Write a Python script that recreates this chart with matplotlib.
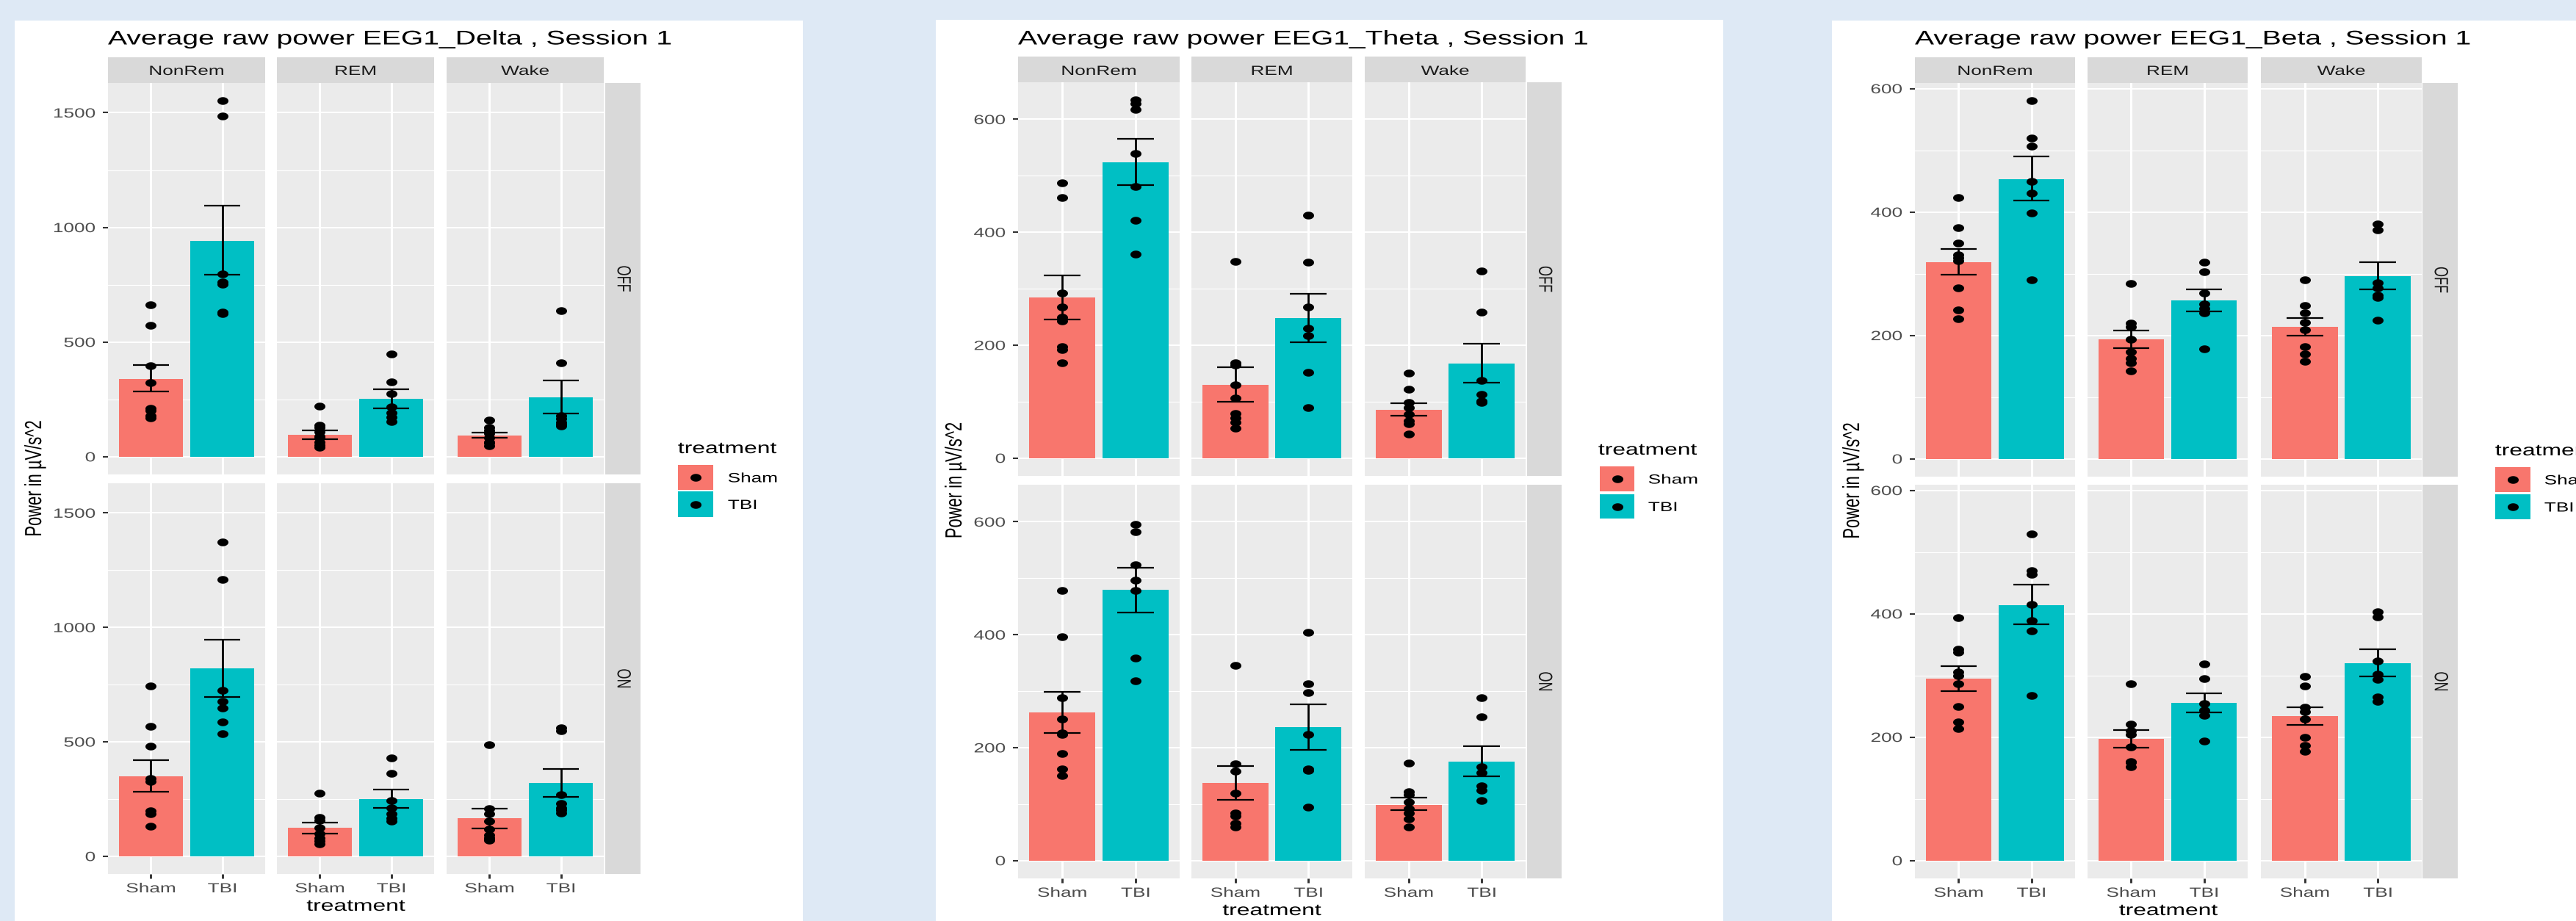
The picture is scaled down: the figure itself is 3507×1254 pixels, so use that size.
import numpy as np
import matplotlib
matplotlib.use("Agg")
import matplotlib.pyplot as plt
from matplotlib.path import Path
from matplotlib.patches import Rectangle
from matplotlib.lines import Line2D
from matplotlib.transforms import Affine2D, blended_transform_factory, ScaledTranslation
import matplotlib.patheffects as pe

plt.rcParams['font.family'] = ['Liberation Sans', 'DejaVu Sans']

# ---------------- data ----------------
states = ['NonRem', 'REM', 'Wake']
treatments = ['Sham', 'TBI']
conditions = ['OFF', 'ON']
bands = ['EEG1_Delta', 'EEG1_Theta', 'EEG1_Beta']
session_label = 'Session 1'
y_label = 'Power in µV/s^2'
x_label = 'treatment'

# order in every list: NonRem-Sham, NonRem-TBI, REM-Sham, REM-TBI, Wake-Sham, Wake-TBI
delta_off_mean = [340, 942, 96, 251, 93, 258]
delta_off_lo = [284, 794, 77, 212, 81, 187]
delta_off_hi = [399, 1094, 114, 293, 106, 332]
delta_off_pts = [[662, 573, 397, 323, 212, 200, 178, 170],
                 [1552, 1484, 798, 762, 751, 631, 624],
                 [221, 136, 127, 107, 90, 81, 62, 50, 42],
                 [448, 327, 274, 216, 192, 173, 153],
                 [160, 127, 114, 101, 81, 62, 60, 48],
                 [636, 408, 179, 166, 150, 140, 134]]

delta_on_mean = [350, 821, 123, 249, 165, 320]
delta_on_lo = [281, 697, 100, 210, 122, 259]
delta_on_hi = [421, 947, 148, 290, 209, 382]
delta_on_pts = [[745, 566, 482, 339, 326, 197, 184, 132],
                [1374, 1210, 724, 676, 648, 588, 536],
                [275, 171, 158, 126, 100, 80, 67, 54],
                [430, 361, 242, 210, 184, 165, 152],
                [488, 207, 184, 152, 119, 93, 80, 75, 71],
                [562, 549, 268, 229, 210, 203, 190]]

theta_off_mean = [284, 524, 130, 248, 86, 168]
theta_off_lo = [246, 484, 100, 205, 75, 134]
theta_off_hi = [323, 565, 161, 291, 97, 203]
theta_off_pts = [[488, 461, 292, 267, 249, 243, 197, 192, 169],
                 [634, 628, 618, 539, 481, 421, 361],
                 [348, 169, 165, 130, 106, 79, 71, 63, 53],
                 [430, 347, 268, 230, 217, 152, 89],
                 [151, 122, 98, 89, 77, 66, 61, 43],
                 [331, 259, 138, 113, 101, 98]]

theta_on_mean = [263, 479, 137, 236, 99, 175]
theta_on_lo = [226, 439, 108, 196, 89, 149]
theta_on_hi = [299, 519, 167, 277, 111, 202]
theta_on_pts = [[478, 397, 289, 250, 226, 223, 189, 162, 151],
                [596, 582, 524, 497, 478, 358, 318],
                [345, 171, 158, 119, 84, 79, 66, 59],
                [404, 313, 297, 223, 162, 160, 94],
                [172, 122, 116, 104, 92, 84, 74, 59],
                [289, 255, 166, 156, 132, 124, 106]]

beta_off_mean = [318, 453, 193, 257, 214, 296]
beta_off_lo = [298, 418, 179, 239, 200, 274]
beta_off_hi = [340, 490, 208, 274, 228, 318]
beta_off_pts = [[423, 374, 349, 331, 326, 321, 277, 241, 227],
                [580, 520, 507, 450, 430, 398, 290],
                [284, 220, 214, 193, 173, 163, 156, 142],
                [318, 303, 269, 251, 243, 236, 178],
                [290, 248, 236, 221, 209, 182, 170, 158],
                [380, 371, 285, 277, 265, 261, 225]]

beta_on_mean = [295, 414, 197, 255, 234, 320]
beta_on_lo = [275, 383, 183, 240, 220, 298]
beta_on_hi = [315, 447, 212, 271, 248, 342]
beta_on_pts = [[394, 342, 338, 306, 299, 286, 250, 224, 214],
               [529, 470, 464, 415, 389, 372, 267],
               [286, 221, 210, 204, 184, 160, 159, 152],
               [318, 295, 254, 243, 235, 193],
               [298, 283, 248, 241, 229, 199, 186, 177],
               [403, 395, 323, 302, 294, 265, 258]]

delta_ticks = [0, 500, 1000, 1500]
theta_ticks = [0, 200, 400, 600]
beta_ticks = [0, 200, 400, 600]

DATA = {
    'EEG1_Delta': {'OFF': (delta_off_mean, delta_off_lo, delta_off_hi, delta_off_pts),
                   'ON': (delta_on_mean, delta_on_lo, delta_on_hi, delta_on_pts),
                   'ticks': delta_ticks},
    'EEG1_Theta': {'OFF': (theta_off_mean, theta_off_lo, theta_off_hi, theta_off_pts),
                   'ON': (theta_on_mean, theta_on_lo, theta_on_hi, theta_on_pts),
                   'ticks': theta_ticks},
    'EEG1_Beta': {'OFF': (beta_off_mean, beta_off_lo, beta_off_hi, beta_off_pts),
                  'ON': (beta_on_mean, beta_on_lo, beta_on_hi, beta_on_pts),
                  'ticks': beta_ticks},
}

# ---------------- style ----------------
W, H = 3507, 1254
BG = '#DEE9F5'
COLORS = ['#F8766D', '#00BFC4']
PANEL = '#EBEBEB'
STRIP = '#D9D9D9'
SX = 1.45          # the reference image is stretched horizontally
FS_TITLE = 19.4
FS_AXTEXT = 13.0
FS_AXTITLE = 15.8

theta_e = np.linspace(0, 2 * np.pi, 49)
ELLIPSE = Path(np.column_stack([np.cos(theta_e), 0.70 * np.sin(theta_e)]), closed=True)
MS = 10.8


class HStretch(pe.AbstractPathEffect):
    """Draw text stretched horizontally on screen around an anchor."""
    def __init__(self, sx=SX, anchor='center'):
        super().__init__()
        self.sx = sx
        self.anchor = anchor

    def draw_path(self, renderer, gc, tpath, affine, rgbFace=None):
        bb = tpath.get_extents(affine)
        if self.anchor == 'left':
            cx = bb.x0
        elif self.anchor == 'right':
            cx = bb.x1
        else:
            cx = 0.5 * (bb.x0 + bb.x1)
        t = affine + Affine2D().translate(-cx, 0).scale(self.sx, 1).translate(cx, 0)
        renderer.draw_path(gc, tpath, t, rgbFace)


fig = plt.figure(figsize=(W / 100, H / 100), dpi=100)
fig.patch.set_facecolor(BG)


def px_axes(x0, y0, x1, y1):
    return fig.add_axes([x0 / W, 1 - y1 / H, (x1 - x0) / W, (y1 - y0) / H])


def px_rect(x0, y0, x1, y1, color, z=-5):
    fig.add_artist(Rectangle((x0 / W, 1 - y1 / H), (x1 - x0) / W, (y1 - y0) / H,
                             transform=fig.transFigure, facecolor=color,
                             edgecolor='none', zorder=z))


def ftext(x, y, s, anchor='center', **kw):
    t = fig.text(x / W, 1 - y / H, s, **kw)
    t.set_path_effects([HStretch(SX, anchor)])
    return t


def stretch(t, anchor):
    t.set_path_effects([HStretch(SX, anchor)])
    return t


LAYOUT = [
    dict(white=(20, 1093), top=28, cols=[(147, 361), (377, 591), (608, 822)], strip=(824, 872),
         strip_top=78, rows=[(113, 646), (658, 1190)], ylab_x=48,
         key_x=(923, 971), keys_y=[(633, 667), (669, 704)], leg_title=(923, 617), lab_x=991),
    dict(white=(1274, 2346), top=27, cols=[(1386, 1606), (1622, 1841), (1858, 2077)], strip=(2079, 2126),
         strip_top=77, rows=[(112, 648), (660, 1196)], ylab_x=1301,
         key_x=(2178, 2225), keys_y=[(635, 669), (673, 706)], leg_title=(2176, 619), lab_x=2244),
    dict(white=(2494, 3520), top=28, cols=[(2607, 2825), (2842, 3060), (3078, 3297)], strip=(3298, 3346),
         strip_top=78, rows=[(113, 649), (660, 1196)], ylab_x=2523,
         key_x=(3397, 3445), keys_y=[(636, 670), (673, 707)], leg_title=(3397, 620), lab_x=3464),
]

xpos = [1, 2]

for band, L in zip(bands, LAYOUT):
    d = DATA[band]
    allv = []
    for c in conditions:
        mean, lo, hi, pts = d[c]
        allv += list(hi) + [v for p in pts for v in p]
    vmax = max(allv)
    ylim = (-0.05 * vmax, 1.05 * vmax)
    ticks = d['ticks']
    minor = [(a + b) / 2 for a, b in zip(ticks[:-1], ticks[1:])]
    minor += [ticks[-1] + (ticks[1] - ticks[0]) / 2]
    minor = [m for m in minor if ylim[0] < m < ylim[1]]

    # white card
    px_rect(L['white'][0], L['top'], L['white'][1], H + 20, 'white', z=-10)

    # title
    ftext(L['cols'][0][0], 60.5, f'Average raw power {band} , {session_label}', anchor='left',
          ha='left', va='baseline', fontsize=FS_TITLE, color='black')

    # top strips
    for (cx0, cx1), st in zip(L['cols'], states):
        px_rect(cx0, L['strip_top'], cx1, L['rows'][0][0], STRIP)
        ftext((cx0 + cx1) / 2, 102, st, ha='center', va='baseline', fontsize=FS_AXTEXT, color='#1A1A1A')

    for r, (cond, (ry0, ry1)) in enumerate(zip(conditions, L['rows'])):
        mean, lo, hi, pts = d[cond]
        # right strip
        px_rect(L['strip'][0], ry0, L['strip'][1], ry1, STRIP)
        ftext((L['strip'][0] + L['strip'][1]) / 2, (ry0 + ry1) / 2, cond, ha='center', va='center',
              rotation=-90, fontsize=FS_AXTEXT, color='#1A1A1A')
        for c, (cx0, cx1) in enumerate(L['cols']):
            ax = px_axes(cx0, ry0, cx1, ry1)
            ax.set_facecolor(PANEL)
            for s in ax.spines.values():
                s.set_visible(False)
            ax.set_xlim(0.4, 2.6)
            ax.set_ylim(*ylim)
            ax.set_xticks(xpos)
            ax.set_yticks(ticks)
            ax.set_yticks(minor, minor=True)
            ax.set_axisbelow(True)
            ax.yaxis.grid(True, which='major', color='white', lw=1.5)
            ax.yaxis.grid(True, which='minor', color='white', lw=0.8)
            ax.xaxis.grid(True, which='major', color='white', lw=2.2)
            ax.tick_params(which='minor', length=0)
            ax.tick_params(axis='y', which='major', length=5 if c == 0 else 0, width=1.5,
                           color='#333333', labelleft=False)
            ax.tick_params(axis='x', which='major', length=4 if r == 1 else 0, width=2.1,
                           color='#333333', labelbottom=False)
            i0 = 2 * c
            ax.bar(xpos, mean[i0:i0 + 2], width=0.9, color=COLORS, linewidth=0, zorder=2)
            for k in range(2):
                x = xpos[k]
                ax.vlines(x, lo[i0 + k], hi[i0 + k], color='black', lw=2.0, zorder=3)
                ax.hlines([lo[i0 + k], hi[i0 + k]], x - 0.25, x + 0.25, color='black', lw=1.6, zorder=3)
                p = pts[i0 + k]
                ax.plot([x] * len(p), p, linestyle='none', marker=ELLIPSE, ms=MS,
                        color='black', mec='none', zorder=4)
            if c == 0:
                tr = blended_transform_factory(ax.transAxes, ax.transData) + \
                    ScaledTranslation(-0.17, 0, fig.dpi_scale_trans)
                for tv in ticks:
                    stretch(ax.text(0, tv, str(tv), transform=tr, ha='right', va='center_baseline',
                                    fontsize=FS_AXTEXT, color='#4D4D4D'), 'right')
            if r == 1:
                tr = blended_transform_factory(ax.transData, ax.transAxes) + \
                    ScaledTranslation(0, -0.25, fig.dpi_scale_trans)
                for x, lab in zip(xpos, treatments):
                    stretch(ax.text(x, 0, lab, transform=tr, ha='center', va='baseline',
                                    fontsize=FS_AXTEXT, color='#4D4D4D'), 'center')

    # axis titles
    bottom = L['rows'][1][1]
    ftext((L['cols'][0][0] + L['cols'][2][1]) / 2, bottom + 50, x_label, ha='center', va='baseline',
          fontsize=FS_AXTITLE, color='black')
    ftext(L['ylab_x'], (L['rows'][0][0] + L['rows'][1][1]) / 2, y_label, ha='center', va='center',
          rotation=90, fontsize=FS_AXTITLE, color='black')

    # legend
    ftext(L['leg_title'][0], L['leg_title'][1], 'treatment', anchor='left', ha='left', va='baseline',
          fontsize=FS_AXTITLE, color='black')
    for (ky0, ky1), col, lab in zip(L['keys_y'], COLORS, treatments):
        kx0, kx1 = L['key_x']
        px_rect(kx0, ky0, kx1, ky1, col, z=1)
        fig.add_artist(Line2D([(kx0 + kx1) / 2 / W], [1 - (ky0 + ky1) / 2 / H], transform=fig.transFigure,
                              linestyle='none', marker=ELLIPSE, ms=MS, color='black', mec='none', zorder=2))
        ftext(L['lab_x'], (ky0 + ky1) / 2, lab, anchor='left', ha='left', va='center_baseline',
              fontsize=FS_AXTEXT, color='black')

fig.savefig('out.png', dpi=100, facecolor=BG)
